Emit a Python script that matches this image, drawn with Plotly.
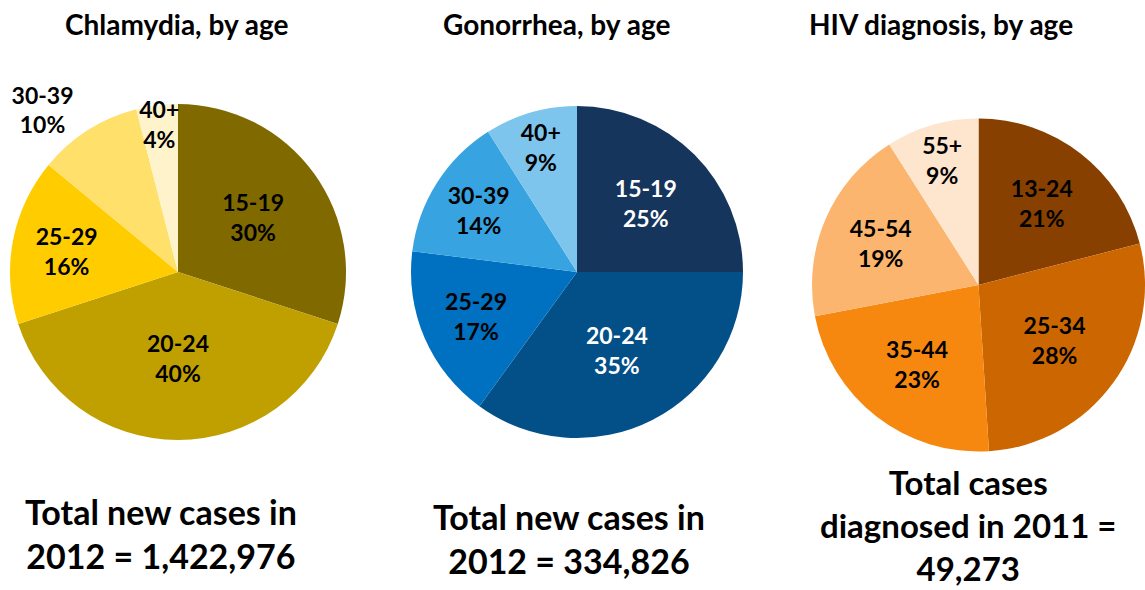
import plotly.graph_objects as go

W, H = 1145, 590

# ---- data ----
chlam_labels = ["15-19", "20-24", "25-29", "30-39", "40+"]
chlam_values = [30, 40, 16, 10, 4]
gono_labels = ["15-19", "20-24", "25-29", "30-39", "40+"]
gono_values = [25, 35, 17, 14, 9]
hiv_labels = ["13-24", "25-34", "35-44", "45-54", "55+"]
hiv_values = [21, 28, 23, 19, 9]

titles = ["Chlamydia, by age", "Gonorrhea, by age", "HIV diagnosis, by age"]
totals = ["Total new cases in<br>2012 = 1,422,976",
          "Total new cases in<br>2012 = 334,826",
          "Total cases<br>diagnosed in 2011 =<br>49,273"]

# ---- styles ----
FONT = "Lato"
LABEL_SIZE = 23
chlam_colors = ["#806A00", "#BFA000", "#FFCC00", "#FFE06B", "#FFF3CC"]
gono_colors = ["#16355C", "#034F88", "#0070C0", "#37A3E0", "#7DC5EC"]
hiv_colors = ["#874000", "#CC6600", "#F6870F", "#FBB56E", "#FDE5CE"]


def px_domain(x0, x1, y0, y1):
    return dict(x=[x0 / W, min(x1 / W, 1.0)], y=[(H - y1) / H, (H - y0) / H])


def pie(labels, values, colors, dom, textcolors, positions):
    return go.Pie(
        labels=labels, values=values, sort=False, direction="clockwise",
        rotation=0, marker=dict(colors=colors, line=dict(width=0)),
        texttemplate="%{label}<br>%{percent:.0%}",
        textposition=positions,
        insidetextorientation="horizontal",
        insidetextfont=dict(family=FONT, size=LABEL_SIZE, color=textcolors, weight="bold"),
        outsidetextfont=dict(family=FONT, size=LABEL_SIZE, color="black", weight="bold"),
        domain=dom, showlegend=False, hoverinfo="skip",
    )


fig = go.Figure()
fig.add_trace(pie(chlam_labels, chlam_values, chlam_colors,
                  px_domain(10, 346, 104, 440), ["black"] * 5,
                  ["inside", "inside", "inside", "outside", "inside"]))
fig.add_trace(pie(gono_labels, gono_values, gono_colors,
                  px_domain(411, 743, 106, 438),
                  ["white", "white", "black", "black", "black"], "inside"))
fig.add_trace(pie(hiv_labels, hiv_values, hiv_colors,
                  px_domain(812, 1148, 117, 453), ["black"] * 5, "inside"))

title_x = [177, 556, 941]
total_x = [161, 569, 968]
total_y = [533, 538, 525]
total_size = [34, 34, 33]
for t, x in zip(titles, title_x):
    fig.add_annotation(text=t, x=x / W, y=1 - 24 / H, xref="paper", yref="paper",
                       xanchor="center", yanchor="middle", showarrow=False,
                       font=dict(family=FONT, size=28, color="black", weight="bold"))
for t, x, y, s in zip(totals, total_x, total_y, total_size):
    fig.add_annotation(text=t, x=x / W, y=1 - y / H, xref="paper", yref="paper",
                       xanchor="center", yanchor="middle", showarrow=False,
                       align="center",
                       font=dict(family=FONT, size=s, color="black", weight="bold"))

fig.update_layout(
    width=W, height=H, margin=dict(l=0, r=0, t=0, b=0),
    paper_bgcolor="white", plot_bgcolor="white",
    uniformtext=dict(minsize=LABEL_SIZE, mode="show"),
)

fig.write_html("out.html")
